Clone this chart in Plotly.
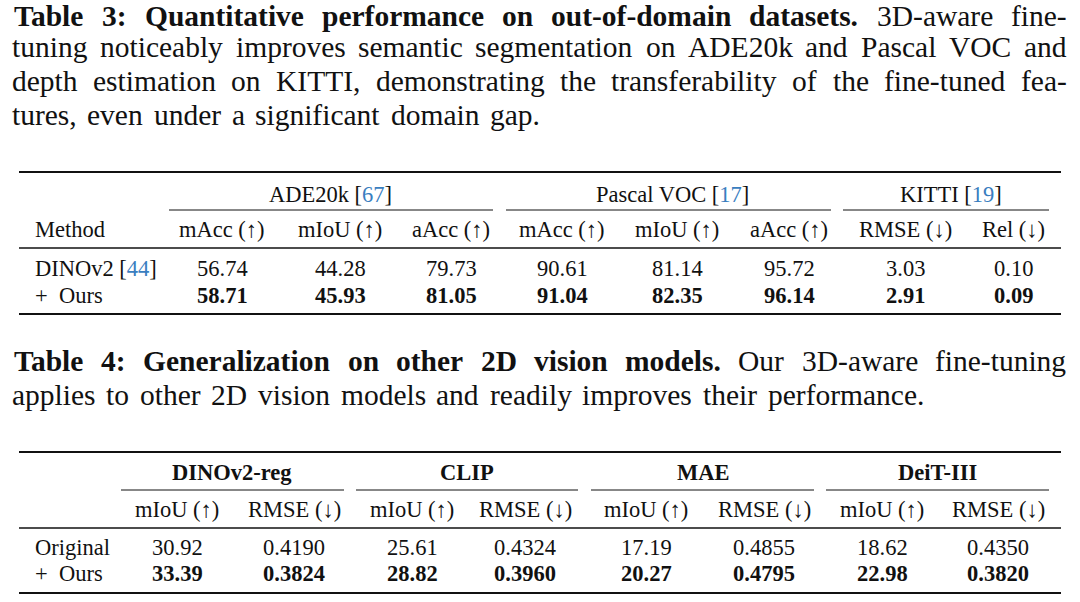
import plotly.graph_objects as go

# ---------------- data ----------------
# caption lines: (bold part, regular part)
t3_caption = [
    ("Table 3: Quantitative performance on out-of-domain datasets.", "3D-aware fine-"),
    ("", "tuning noticeably improves semantic segmentation on ADE20k and Pascal VOC and"),
    ("", "depth estimation on KITTI, demonstrating the transferability of the fine-tuned fea-"),
    ("", "tures, even under a significant domain gap."),
]
t3_groups = ["ADE20k", "Pascal VOC", "KITTI"]
t3_group_refs = ["67", "17", "19"]
t3_metrics = ["mAcc (↑)", "mIoU (↑)", "aAcc (↑)", "mAcc (↑)", "mIoU (↑)", "aAcc (↑)", "RMSE (↓)", "Rel (↓)"]
t3_method_header = "Method"
t3_methods = ["DINOv2", "+\u2002Ours"]
t3_method_refs = ["44", None]
t3_dinov2 = [56.74, 44.28, 79.73, 90.61, 81.14, 95.72, 3.03, 0.10]
t3_ours = [58.71, 45.93, 81.05, 91.04, 82.35, 96.14, 2.91, 0.09]

t4_caption = [
    ("Table 4: Generalization on other 2D vision models.", "Our 3D-aware fine-tuning"),
    ("", "applies to other 2D vision models and readily improves their performance."),
]
t4_groups = ["DINOv2-reg", "CLIP", "MAE", "DeiT-III"]
t4_metrics = ["mIoU (↑)", "RMSE (↓)"] * 4
t4_decimals = [2, 4] * 4
t4_rows = ["Original", "+\u2002Ours"]
t4_original = [30.92, 0.4190, 25.61, 0.4324, 17.19, 0.4855, 18.62, 0.4350]
t4_ours = [33.39, 0.3824, 28.82, 0.3960, 20.27, 0.4795, 22.98, 0.3820]

# ---------------- style / layout ----------------
W, H = 1080, 602
FONT = "Liberation Serif"
CAP_SIZE = 29.5
TAB_SIZE = 22.5
BLUE = "#3a7ebf"
INK = "#111111"

# glyph advance widths (em) of the serif face, used to justify caption lines
REG = dict(zip("abcdefghijklmnopqrstuvwxyz",
               [.444, .5, .444, .5, .444, .333, .5, .5, .278, .278, .5, .278, .778,
                .5, .5, .5, .5, .333, .389, .278, .5, .5, .722, .5, .5, .444]))
REG.update(zip("ABCDEFGHIJKLMNOPQRSTUVWXYZ",
               [.722, .667, .667, .722, .611, .556, .722, .722, .333, .389, .722, .611, .889,
                .722, .722, .556, .722, .667, .556, .611, .722, .722, .944, .722, .722, .611]))
REG.update({c: .5 for c in "0123456789"})
REG.update({".": .25, ",": .25, ":": .278, "-": .333})
BOLD = dict(zip("abcdefghijklmnopqrstuvwxyz",
                [.5, .556, .444, .556, .444, .333, .5, .556, .278, .333, .556, .278, .833,
                 .556, .5, .556, .556, .444, .389, .333, .556, .5, .722, .5, .5, .444]))
BOLD.update(zip("ABCDEFGHIJKLMNOPQRSTUVWXYZ",
                [.722, .667, .722, .722, .667, .611, .778, .778, .389, .5, .778, .667, .944,
                 .722, .778, .611, .778, .722, .556, .667, .722, .722, 1.0, .722, .722, .667]))
BOLD.update({c: .5 for c in "0123456789"})
BOLD.update({".": .25, ",": .25, ":": .333, "-": .333})

CAP_LEFT = 12
t3_cap_right = [1066.5, 1066.5, 1066.5, 540]
t4_cap_right = [1066.5, 924]
t3_cap_base = [26.2, 57.4, 91.2, 125.0]
t4_cap_base = [371.2, 405.0]

LABEL_X = 33
TAB_LEFT, TAB_RIGHT = 19, 1061

t3_y = dict(top=172, group=194.3, cmid=210, head=229.9, mid=248, r1=268.6, r2=295.3, bottom=314)
t3_col_x = [222, 340, 451, 562, 677, 789, 905, 1013]
t3_group_x = [330, 672, 951]
t3_cmid = [(169, 493), (506, 831), (843, 1049)]

t4_y = dict(top=452, group=472.6, cmid=490, head=509.9, mid=528, r1=547.6, r2=573.3, bottom=593)
t4_col_x = [177, 294, 412, 525, 646, 764, 882, 998]
t4_group_x = [232, 467, 703, 937]
t4_cmid = [(121, 344), (356, 578), (591, 814), (826, 1049)]

ann = []
shapes = []


def text(x, y, s, size, anchor="center", color=INK):
    ann.append(dict(x=x, y=y, xref="x", yref="y", text=s, showarrow=False,
                    xanchor=anchor, yanchor="middle",
                    font=dict(family=FONT, size=size, color=color)))


def rule(x0, x1, y, width):
    shapes.append(dict(type="line", xref="x", yref="y", x0=x0, x1=x1, y0=y, y1=y,
                       line=dict(color=INK, width=width)))


def cite(ref):
    return "[<span style='color:%s'>%s</span>]" % (BLUE, ref)


def caption_line(bold, regular, right, baseline):
    words = [(w, True) for w in bold.split()] + [(w, False) for w in regular.split()]
    widths = [sum((BOLD if b else REG).get(c, .5) for c in w) * CAP_SIZE for w, b in words]
    gap = (right - CAP_LEFT - sum(widths)) / (len(words) - 1)
    x = CAP_LEFT
    ymid = baseline - 0.3375 * CAP_SIZE
    for (w, b), wd in zip(words, widths):
        text(x + wd / 2, ymid, "<b>%s</b>" % w if b else w, CAP_SIZE, "center")
        x += wd + gap


for (b, r), right, base in zip(t3_caption, t3_cap_right, t3_cap_base):
    caption_line(b, r, right, base)
for (b, r), right, base in zip(t4_caption, t4_cap_right, t4_cap_base):
    caption_line(b, r, right, base)

# ---- Table 3 ----
rule(TAB_LEFT, TAB_RIGHT, t3_y["top"], 2.2)
for g, r, gx in zip(t3_groups, t3_group_refs, t3_group_x):
    text(gx, t3_y["group"], "%s %s" % (g, cite(r)), TAB_SIZE)
for x0, x1 in t3_cmid:
    rule(x0, x1, t3_y["cmid"], 1.0)
text(LABEL_X, t3_y["head"], t3_method_header, TAB_SIZE, "left")
for m, x in zip(t3_metrics, t3_col_x):
    text(x, t3_y["head"], m, TAB_SIZE)
rule(TAB_LEFT, TAB_RIGHT, t3_y["mid"], 1.3)
for name, ref, y in zip(t3_methods, t3_method_refs, [t3_y["r1"], t3_y["r2"]]):
    text(LABEL_X, y, name + (" " + cite(ref) if ref else ""), TAB_SIZE, "left")
for v, x in zip(t3_dinov2, t3_col_x):
    text(x, t3_y["r1"], "%.2f" % v, TAB_SIZE)
for v, x in zip(t3_ours, t3_col_x):
    text(x, t3_y["r2"], "<b>%.2f</b>" % v, TAB_SIZE)
rule(TAB_LEFT, TAB_RIGHT, t3_y["bottom"], 2.2)

# ---- Table 4 ----
rule(TAB_LEFT, TAB_RIGHT, t4_y["top"], 2.2)
for g, gx in zip(t4_groups, t4_group_x):
    text(gx, t4_y["group"], "<b>%s</b>" % g, TAB_SIZE)
for x0, x1 in t4_cmid:
    rule(x0, x1, t4_y["cmid"], 1.0)
for m, x in zip(t4_metrics, t4_col_x):
    text(x, t4_y["head"], m, TAB_SIZE)
rule(TAB_LEFT, TAB_RIGHT, t4_y["mid"], 1.3)
text(LABEL_X, t4_y["r1"], t4_rows[0], TAB_SIZE, "left")
text(LABEL_X, t4_y["r2"], t4_rows[1], TAB_SIZE, "left")
for v, d, x in zip(t4_original, t4_decimals, t4_col_x):
    text(x, t4_y["r1"], "%.*f" % (d, v), TAB_SIZE)
for v, d, x in zip(t4_ours, t4_decimals, t4_col_x):
    text(x, t4_y["r2"], "<b>%.*f</b>" % (d, v), TAB_SIZE)
rule(TAB_LEFT, TAB_RIGHT, t4_y["bottom"], 2.2)

fig = go.Figure()
fig.update_layout(
    width=W, height=H,
    margin=dict(l=0, r=0, t=0, b=0, pad=0),
    paper_bgcolor="white", plot_bgcolor="white",
    xaxis=dict(range=[0, W], visible=False, fixedrange=True),
    yaxis=dict(range=[H, 0], visible=False, fixedrange=True),
    annotations=ann, shapes=shapes, showlegend=False,
)
# let the figure start at the window's top-left corner (no default page margin)
fig.write_html("out.html", config={"displayModeBar": False},
               post_script="document.body.style.margin='0';")
